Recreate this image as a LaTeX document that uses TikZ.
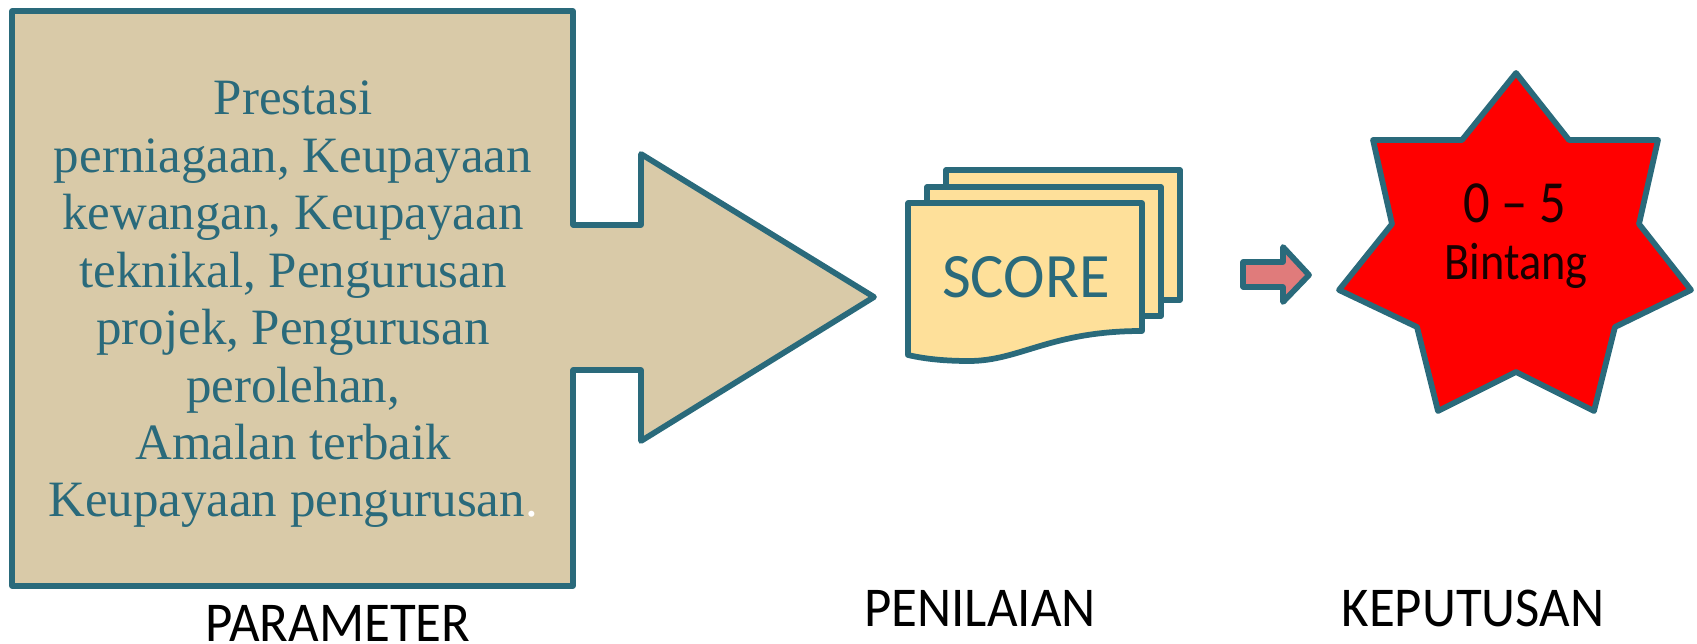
\documentclass[tikz,border=0pt]{standalone}
\usepackage{fontspec}
\setmainfont{Liberation Serif}
\newfontfamily\labelfont[FakeStretch=0.94]{Carlito}
\newfontfamily\starfont[FakeStretch=0.88]{Carlito}
\newfontfamily\scorefont[FakeStretch=0.99]{Carlito}
\newfontfamily\bodyfont[FakeStretch=1.0]{Liberation Serif}
\definecolor{tealline}{HTML}{2A6A7B}
\definecolor{sandfill}{HTML}{D9CAA8}
\definecolor{cardfill}{HTML}{FEE09A}
\definecolor{pinkfill}{HTML}{E07B7B}
\tikzset{
	shapeline/.style={draw=tealline,line width=0.115cm,line join=round},
	steplabel/.style={anchor=base,text=black,inner sep=0pt,font=\labelfont\fontsize{32}{32}\selectfont},
	starlabel/.style={anchor=base,text=black!90!red,inner sep=0pt},
}
\begin{document}
\begin{tikzpicture}[x=0.02cm,y=-0.02cm]
		\useasboundingbox (0,0) rectangle (1697,644);
		
		% box and big arrow as one outline
		\draw[shapeline,fill=sandfill] (12,11) -- (573,11) -- (573,225) -- (641,225) -- (641,154) -- (874,297)
			-- (641,441) -- (641,370) -- (573,370) -- (573,586) -- (12,586) -- cycle;
		\node[anchor=base,align=center,text=tealline,inner sep=0pt,font=\bodyfont\fontsize{29}{32.7}\selectfont] (params) at (293,517)
			{Prestasi\\ perniagaan, Keupayaan\\ kewangan, Keupayaan\\ teknikal, Pengurusan\\ projek, Pengurusan\\ perolehan,\\ Amalan terbaik\\ Keupayaan pengurusan{\color{white}.}};
		
		% stack of score cards, back one first
		\foreach \x/\y/\b in {38/-33/-31,19/-16/-15} {
			\draw[shapeline,fill=cardfill] (908+\x,203+\y) rectangle (1142+\x,331+\b);
		}
		\draw[shapeline,fill=cardfill] (908,203) -- (1142,203) -- (1142,331)
			.. controls (1050,331) and (1020,361) .. (969,361)
			.. controls (945,361) and (925,359) .. (908,355) -- cycle;
		\node[anchor=base,text=tealline,inner sep=0pt,font=\scorefont\fontsize{36}{36}\selectfont] (score) at (1026,298) {SCORE};
		
		% small arrow
		\draw[shapeline,fill=pinkfill] (1243,262) -- (1283,262) -- (1283,247) -- (1309,275) -- (1283,302) -- (1283,287) -- (1243,287) -- cycle;
		
		% seven pointed star
		\draw[shapeline,fill=red] (1516,73) -- (1569,140) -- (1658,140) -- (1639,224) -- (1691,290) -- (1615,327) -- (1594,411)
			-- (1516,372) -- (1438,411) -- (1417,327) -- (1339,290) -- (1392,224) -- (1373,140) -- (1462,140) -- cycle;
		\node[starlabel,font=\starfont\fontsize{34}{34}\selectfont] (range) at (1515,223) {0 – 5};
		\node[starlabel,font=\starfont\fontsize{30}{30}\selectfont] (stars) at (1516,280) {Bintang};
		
		% captions
		\node[steplabel] (parameter) at (338,642) {PARAMETER};
		\node[steplabel] (penilaian) at (980,627) {PENILAIAN};
		\node[steplabel] (keputusan) at (1473,627) {KEPUTUSAN};
\end{tikzpicture}
\end{document}
